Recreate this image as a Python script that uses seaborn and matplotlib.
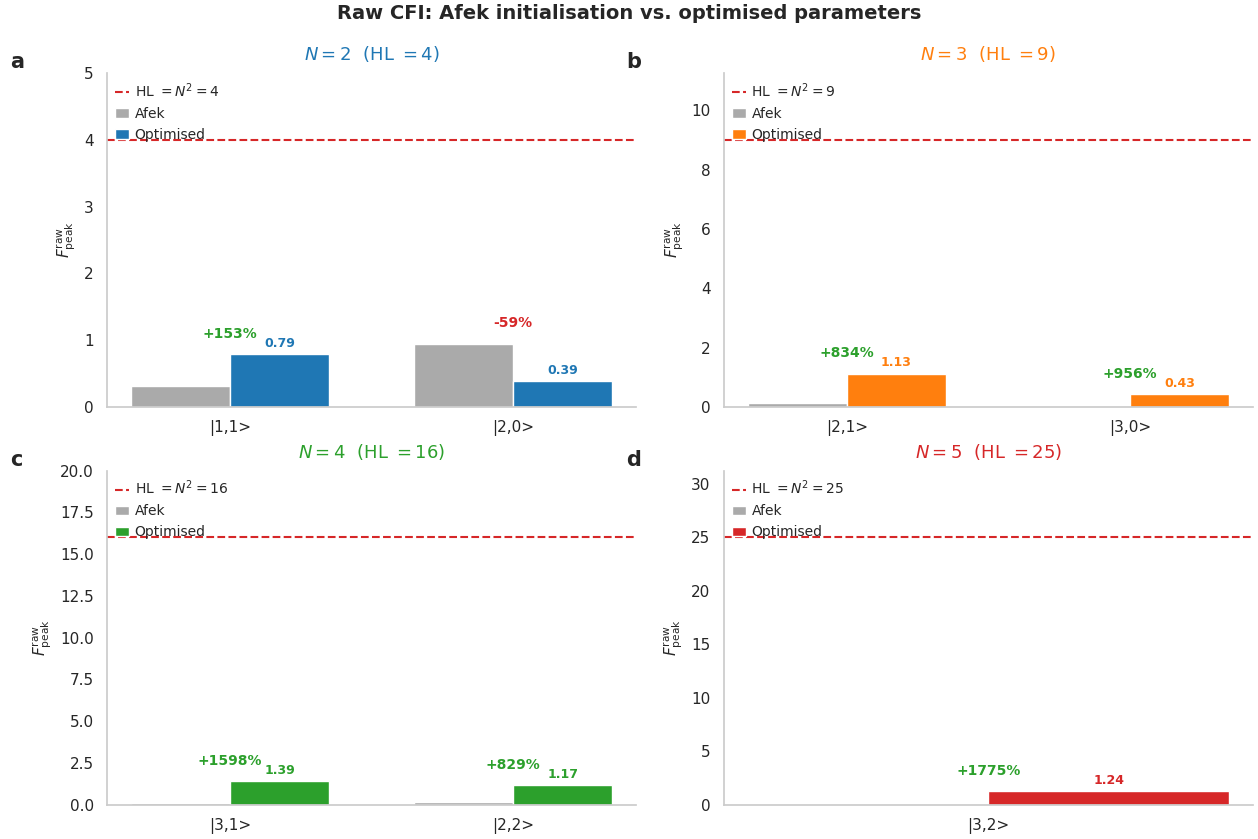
import numpy as np
import pandas as pd
import matplotlib
matplotlib.use("Agg")
import matplotlib.pyplot as plt
from matplotlib.lines import Line2D
from matplotlib.patches import Patch
import seaborn as sns

# values
N_VALUES = [2, 3, 4, 5]
STATES = [["|1,1>", "|2,0>"], ["|2,1>", "|3,0>"], ["|3,1>", "|2,2>"], ["|3,2>"]]
AFEK = [[0.31, 0.95], [0.12, 0.04], [0.08, 0.13], [0.07]]
OPTIMISED = [[0.79, 0.39], [1.13, 0.43], [1.39, 1.17], [1.24]]
PCT_CHANGE = [[153, -59], [834, 956], [1598, 829], [1775]]
COLOURS = ["#1f77b4", "#ff7f0e", "#2ca02c", "#d62728"]
LETTERS = ["a", "b", "c", "d"]
AFEK_COLOUR = "#aaaaaa"
BAR_W = 0.35

sns.set_theme(style="whitegrid")
plt.rcParams["font.family"] = ["DejaVu Sans"]

fig, axes = plt.subplots(2, 2, figsize=(12.58, 8.39), dpi=100)
fig.subplots_adjust(left=0.085, right=0.996, top=0.913, bottom=0.041,
                    wspace=0.165, hspace=0.19)
axes = axes.ravel()

for i, ax in enumerate(axes):
    n = N_VALUES[i]
    hl = n ** 2
    col = COLOURS[i]
    rows = []
    for s, a, o in zip(STATES[i], AFEK[i], OPTIMISED[i]):
        rows.append({"state": s, "kind": "Afek", "F": a})
        rows.append({"state": s, "kind": "Optimised", "F": o})
    df = pd.DataFrame(rows)
    sns.barplot(data=df, x="state", y="F", hue="kind", ax=ax,
                palette={"Afek": AFEK_COLOUR, "Optimised": col},
                saturation=1, width=2 * BAR_W,
                edgecolor="white", linewidth=1, legend=False)
    ytop = hl * 1.25
    ax.set_ylim(0, ytop)
    lo, hi = -BAR_W, len(STATES[i]) - 1 + BAR_W
    pad = 0.05 * (hi - lo)
    ax.set_xlim(lo - pad, hi + pad)
    ax.axhline(hl, color="#d62728", ls="--", lw=1.5)

    # bar labels
    for j, (a, o, p) in enumerate(zip(AFEK[i], OPTIMISED[i], PCT_CHANGE[i])):
        ax.text(j + BAR_W / 2, o + 0.012 * ytop, f"{o:.2f}", ha="center", va="bottom",
                color=col, fontsize=9, fontweight="bold")
        pc = "#2ca02c" if p >= 0 else "#d62728"
        ax.text(j, max(a, o) + 0.04 * ytop, f"{p:+d}%", ha="center", va="bottom",
                color=pc, fontsize=10, fontweight="bold")

    ax.grid(False)
    sns.despine(ax=ax)
    for sp in ("left", "bottom"):
        ax.spines[sp].set_color("#cccccc")
    ax.set_xlabel("")
    ax.set_ylabel(r"$F^{\rm raw}_{\rm peak}$", fontsize=11)
    ax.tick_params(axis="both", labelsize=11)
    ax.set_title(rf"$N = {n}$  (HL $= {hl}$)", color=col, fontsize=13, pad=9)

    handles = [
        Line2D([0], [0], color="#d62728", ls="--", lw=1.5),
        Patch(facecolor=AFEK_COLOUR),
        Patch(facecolor=col),
    ]
    labels = [rf"HL $= N^2 = {hl}$", "Afek", "Optimised"]
    ax.legend(handles, labels, loc="upper left", frameon=False, fontsize=10,
              handlelength=1.0, handletextpad=0.4, labelspacing=0.5,
              borderaxespad=0.2)

fig.suptitle("Raw CFI: Afek initialisation vs. optimised parameters",
             fontsize=14, fontweight="bold", y=0.995)

letter_pos = [(0.008, 0.926), (0.498, 0.926), (0.008, 0.452), (0.498, 0.452)]
for (x, y), letter in zip(letter_pos, LETTERS):
    fig.text(x, y, letter, fontsize=15, fontweight="bold", va="center")

fig.savefig("out.png", dpi=100)
